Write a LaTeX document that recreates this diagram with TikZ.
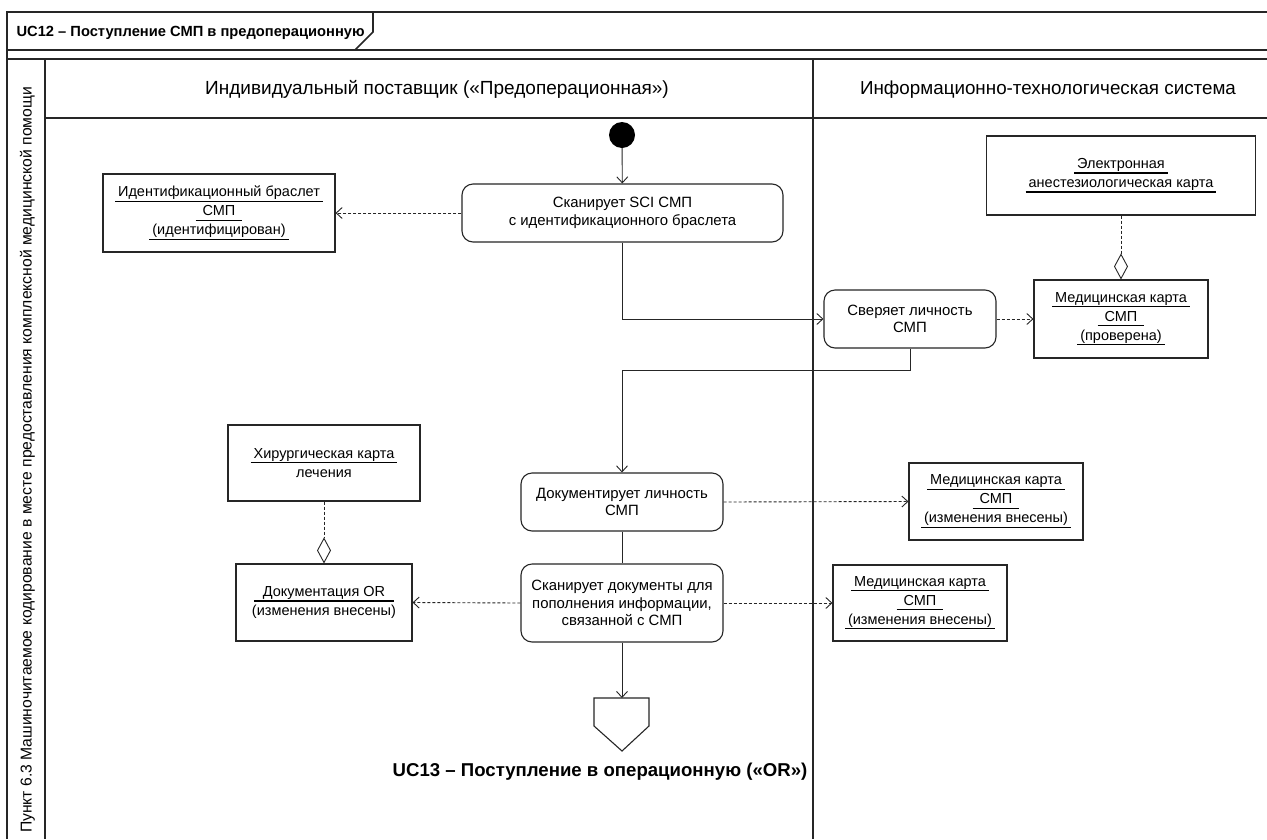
\documentclass[tikz,border=0pt]{standalone}
\usepackage{fontspec}
\setmainfont{Liberation Sans}
\usetikzlibrary{arrows.meta,shapes.geometric}
\newcommand\ulx[2][3pt]{\leavevmode\setbox0\hbox{#2}\rlap{\kern-#1\rule[-5pt]{\dimexpr\wd0+#1+#1\relax}{1.2pt}}\box0}
\tikzset{
  frameline/.style={line width=1.6pt, draw=black!85},
  act/.style={draw=black!85, rounded corners=11pt, line width=1.1pt, align=center,
    font=\fontsize{14.9}{17.5}\selectfont, inner sep=0pt},
  obj/.style={draw=black!85, line width=1.1pt, align=center,
    font=\fontsize{14.5}{19}\selectfont, inner sep=0pt},
  flow/.style={line width=0.9pt, draw=black!85, -{Straight Barb[length=6pt,width=11pt]}},
  plain/.style={line width=0.9pt, draw=black!85},
  dep/.style={flow, dash pattern=on 3pt off 2pt},
  agg/.style={line width=0.9pt, draw=black!85, dash pattern=on 3pt off 2pt,
    -{Diamond[open,length=26pt,width=14pt,line width=0.9pt]}}
}
\begin{document}
\begin{tikzpicture}[x=1pt,y=-1pt]
\useasboundingbox (0,0) rectangle (1267,839);
\fill[white] (0,0) rectangle (1267,839);
% frame
\draw[frameline] (1267,12) -- (7,12) -- (7,839);
\draw[frameline] (7,50) -- (1267,50);
\draw[frameline] (373,12) -- (373,32) -- (355,50);
\draw[frameline] (7,59) -- (1267,59);
\draw[frameline] (45,59) -- (45,839);
\draw[frameline] (45,118) -- (1267,118);
\draw[frameline] (813,59) -- (813,839);
\node[anchor=west, font=\fontsize{14.7}{17}\selectfont\bfseries] (title) at (13,32.5) {UC12 – Поступление СМП в предоперационную};
\node[rotate=90, font=\fontsize{15.7}{18}\selectfont] (side) at (27.5,460) {Пункт 6.3 Машиночитаемое кодирование в месте предоставления комплексной медицинской помощи};
\node[font=\fontsize{19}{22}\selectfont] (lane1) at (437,89.5) {Индивидуальный поставщик («Предоперационная»)};
\node[font=\fontsize{18.8}{22}\selectfont] (lane2) at (1048,89.5) {Информационно-технологическая система};
% nodes
\node[circle, fill=black, minimum size=26pt, inner sep=0pt] (start) at (622,135) {};
\node[act, minimum width=321pt, minimum height=58pt] (a1) at (622.5,213) {Сканирует SCI СМП\\с идентификационного браслета};
\node[obj, minimum width=232pt, minimum height=78pt] (o1) at (219,213) {\ulx{Идентификационный браслет}\\\ulx[7pt]{СМП}\\\ulx{(идентифицирован)}};
\node[act, minimum width=172pt, minimum height=58pt] (a2) at (910,319) {Сверяет личность\\СМП};
\node[obj, minimum width=174pt, minimum height=78pt] (o2) at (1121,319) {\ulx{Медицинская карта}\\\ulx[7pt]{СМП}\\\ulx{(проверена)}};
\node[obj, minimum width=269pt, minimum height=79pt] (o3) at (1121,175.5) {\ulx{Электронная}\\\ulx{анестезиологическая карта}};
\node[act, minimum width=202pt, minimum height=58pt] (a3) at (622,502) {Документирует личность\\СМП};
\node[obj, minimum width=174pt, minimum height=77pt] (o4) at (996,501.5) {\ulx{Медицинская карта}\\\ulx[7pt]{СМП}\\\ulx{(изменения внесены)}};
\node[act, minimum width=202pt, minimum height=78pt] (a4) at (622,603) {Сканирует документы для\\пополнения информации,\\связанной с СМП};
\node[obj, minimum width=174pt, minimum height=76pt] (o5) at (920,603) {\ulx{Медицинская карта}\\\ulx[7pt]{СМП}\\\ulx{(изменения внесены)}};
\node[obj, minimum width=176pt, minimum height=77pt] (o6) at (324,602.5) {\ulx[9pt]{Документация OR}\\(изменения внесены)};
\node[obj, minimum width=192pt, minimum height=76pt] (o7) at (324,463) {\ulx{Хирургическая карта}\\лечения};
% end (pentagon)
\coordinate (endtop) at (622,698);
\draw[line width=1.1pt, draw=black!85] (594,698) -- (649,698) -- (649,726) -- (622,751) -- (594,726) -- cycle;
\node[font=\fontsize{18.6}{21}\selectfont\bfseries] (endlabel) at (600,772) {UC13 – Поступление в операционную («OR»)};
% connectors
\draw[flow] (start) -- (a1);
\draw[dep] (a1.west) -- (o1.east);
\draw[flow] (a1.south) |- (a2.west);
\draw[dep] (a2.east) -- (o2.west);
\draw[agg] (o3.south) -- (o2.north);
\draw[flow] (a2.south) -- ++(0,22) -| (a3.north);
\draw[dep] (a3.east) -- (o4.west);
\draw[plain] (a3.south) -- (a4.north);
\draw[dep] (a4.west) -- (o6.east);
\draw[dep] (a4.east) -- (o5.west);
\draw[agg] (o7.south) -- (o6.north);
\draw[flow] (a4.south) -- (endtop);
\end{tikzpicture}
\end{document}
